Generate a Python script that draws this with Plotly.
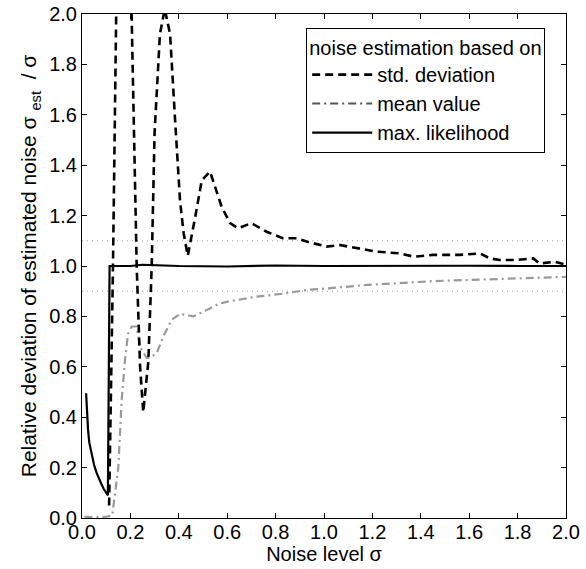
import plotly.graph_objects as go

# ---- data ----
sigma_std = [0.112, 0.128, 0.142, 0.17, 0.205, 0.226, 0.24, 0.253, 0.274, 0.288, 0.30, 0.322,
             0.342, 0.364, 0.384, 0.405, 0.42, 0.437, 0.467, 0.495, 0.529, 0.577, 0.612, 0.645,
             0.70, 0.763, 0.83, 0.887, 0.928, 1.01, 1.066, 1.135, 1.218, 1.314, 1.37, 1.45,
             1.56, 1.645, 1.686, 1.727, 1.796, 1.865, 1.89, 1.955, 2.0]
rel_std = [0.05, 1.0, 2.05, 2.6, 2.0, 1.0, 0.6, 0.42, 0.62, 1.0, 1.53, 1.92,
           2.02, 1.92, 1.59, 1.26, 1.13, 1.04, 1.19, 1.34, 1.375, 1.235, 1.17, 1.15,
           1.17, 1.136, 1.11, 1.11, 1.097, 1.077, 1.083, 1.07, 1.057, 1.05, 1.037, 1.044,
           1.044, 1.05, 1.03, 1.024, 1.024, 1.03, 1.01, 1.017, 1.005]

sigma_mean = [0.01, 0.05, 0.10, 0.125, 0.15, 0.164, 0.178, 0.19, 0.205, 0.226, 0.24, 0.267,
              0.281, 0.309, 0.336, 0.37, 0.405, 0.46, 0.515, 0.564, 0.61, 0.72, 0.83, 0.93,
              1.0, 1.18, 1.45, 1.73, 2.0]
rel_mean = [0.005, 0.003, 0.005, 0.01, 0.2, 0.47, 0.63, 0.73, 0.76, 0.76, 0.68, 0.635,
            0.635, 0.655, 0.72, 0.786, 0.81, 0.80, 0.825, 0.85, 0.86, 0.878, 0.89, 0.905,
            0.91, 0.925, 0.94, 0.948, 0.957]

sigma_ml = [0.017, 0.02, 0.025, 0.03, 0.04, 0.05, 0.06, 0.07, 0.08, 0.09, 0.10, 0.107,
            0.114, 0.2, 0.25, 0.4, 0.6, 0.8, 1.0, 1.2, 1.4, 1.6, 1.8, 2.0]
rel_ml = [0.495, 0.42, 0.35, 0.30, 0.25, 0.21, 0.18, 0.155, 0.135, 0.115, 0.10, 0.09,
          1.0, 1.0, 1.005, 1.0, 0.998, 1.002, 1.0, 1.001, 0.999, 1.001, 1.0, 1.0]

ref_levels = [0.9, 1.1]

x_ticks = [0.0, 0.2, 0.4, 0.6, 0.8, 1.0, 1.2, 1.4, 1.6, 1.8, 2.0]
y_ticks = [0.0, 0.2, 0.4, 0.6, 0.8, 1.0, 1.2, 1.4, 1.6, 1.8, 2.0]

FONT = "Liberation Sans, Arial, sans-serif"

fig = go.Figure()

for lvl in ref_levels:
    fig.add_hline(y=lvl, line=dict(color="#a0a0a0", width=1, dash="1px,4px"), layer="below")

fig.add_trace(go.Scatter(x=sigma_mean, y=rel_mean, mode="lines", showlegend=False,
                         line=dict(color="#9a9a9a", width=2.2, dash="8px,4px,2px,4px")))
fig.add_trace(go.Scatter(x=sigma_std, y=rel_std, mode="lines", name="std. deviation",
                         line=dict(color="black", width=2.6, dash="8px,5px")))
fig.add_trace(go.Scatter(x=[None], y=[None], mode="lines", name="mean value",
                         line=dict(color="#555555", width=2, dash="8px,4px,2px,4px")))
fig.add_trace(go.Scatter(x=sigma_ml, y=rel_ml, mode="lines", name="max. likelihood",
                         line=dict(color="black", width=2.2)))

axis_common = dict(showgrid=False, zeroline=False, showline=True, linecolor="black",
                   linewidth=1, mirror="ticks", ticks="inside", ticklen=5, tickcolor="black",
                   tickfont=dict(family=FONT, size=20, color="black"), tickformat=".1f",
                   automargin=False)

fig.update_xaxes(range=[0, 2], tickvals=x_ticks, ticklabelstandoff=-4,
                 title=dict(text="Noise level σ", font=dict(family=FONT, size=20, color="black"),
                            standoff=0),
                 **axis_common)
fig.update_yaxes(range=[0, 2], tickvals=y_ticks,
                 title=dict(text="Relative deviation of estimated noise σ <sub>est</sub>  / σ"
                                 + "\u00a0" * 11,
                            font=dict(family=FONT, size=21, color="black"), standoff=6),
                 **axis_common)

fig.update_layout(
    width=586, height=569,
    margin=dict(l=82, r=20, t=14, b=51, autoexpand=False),
    paper_bgcolor="white", plot_bgcolor="white",
    font=dict(family=FONT, size=20, color="black"),
    legend=dict(title=dict(text="noise estimation based on", side="top",
                           font=dict(family=FONT, size=20)),
                x=0.957, xanchor="right", y=0.972, yanchor="top",
                bgcolor="white", bordercolor="black", borderwidth=1,
                font=dict(family=FONT, size=20), itemwidth=60, tracegroupgap=0),
)

fig.write_html("out.html", config={"displayModeBar": False},
               post_script="document.body.style.margin='0';document.body.style.overflow='hidden';")
